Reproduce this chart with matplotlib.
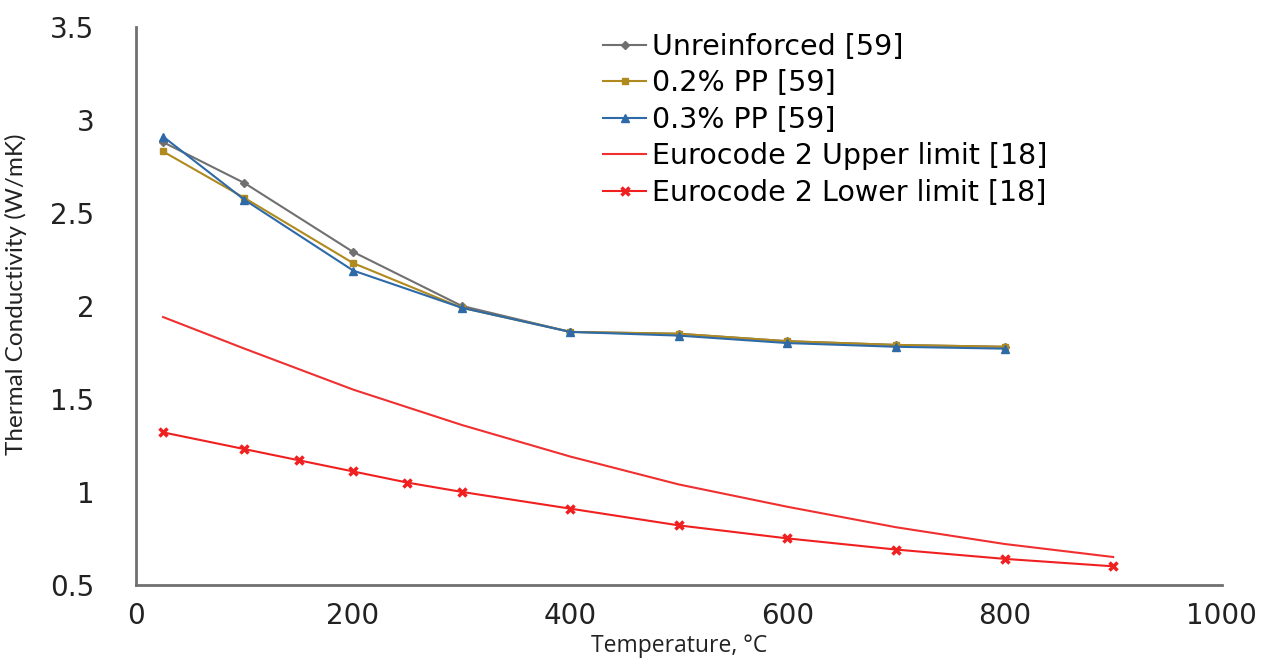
import numpy as np
import matplotlib.pyplot as plt

# data
temp_exp = [25, 100, 200, 300, 400, 500, 600, 700, 800]
unreinforced = [2.88, 2.66, 2.29, 2.00, 1.86, 1.85, 1.81, 1.79, 1.78]
pp_02 = [2.83, 2.58, 2.23, 1.99, 1.86, 1.85, 1.81, 1.79, 1.78]
pp_03 = [2.91, 2.57, 2.19, 1.99, 1.86, 1.84, 1.80, 1.78, 1.77]

temp_upper = [25, 100, 200, 300, 400, 500, 600, 700, 800, 900]
ec2_upper = [1.94, 1.77, 1.55, 1.36, 1.19, 1.04, 0.92, 0.81, 0.72, 0.65]

temp_lower = [25, 100, 150, 200, 250, 300, 400, 500, 600, 700, 800, 900]
ec2_lower = [1.32, 1.23, 1.17, 1.11, 1.05, 1.00, 0.91, 0.82, 0.75, 0.69, 0.64, 0.60]

plt.rcParams['font.family'] = ['DejaVu Sans']

fig = plt.figure(figsize=(12.7, 6.7), dpi=100)
ax = fig.add_axes([0.107, 0.127, 0.855, 0.833])

ax.plot(temp_exp, unreinforced, color="#707070", lw=1.5, marker="D", ms=4,
        label="Unreinforced [59]")
ax.plot(temp_exp, pp_02, color="#b08a1e", lw=1.5, marker="s", ms=5,
        label="0.2% PP [59]")
ax.plot(temp_exp, pp_03, color="#2e6aa8", lw=1.5, marker="^", ms=6,
        label="0.3% PP [59]")
ax.plot(temp_upper, ec2_upper, color="#f03030", lw=1.5,
        label="Eurocode 2 Upper limit [18]")
ax.plot(temp_lower, ec2_lower, color="#f02020", lw=1.5, marker="x", ms=6, mew=2.5,
        label="Eurocode 2 Lower limit [18]")

ax.set_xlim(0, 1000)
ax.set_ylim(0.5, 3.5)
ax.set_xticks(np.arange(0, 1001, 200))
ax.set_yticks([0.5, 1, 1.5, 2, 2.5, 3, 3.5])
ax.set_yticklabels(["0.5", "1", "1.5", "2", "2.5", "3", "3.5"])
ax.tick_params(length=0, labelsize=20, colors="#222222", pad=12)
ax.tick_params(axis="y", pad=30)

for s in ["top", "right"]:
    ax.spines[s].set_visible(False)
for s in ["left", "bottom"]:
    ax.spines[s].set_color("#707070")
    ax.spines[s].set_linewidth(2)

ax.set_xlabel("Temperature, \u00b0C", fontsize=16.5, labelpad=3, color="#222222",
              family="Open Sans")
ax.set_ylabel("Thermal Conductivity (W/mK)", fontsize=17.5, labelpad=2, color="#222222",
              family="Lato")
ax.yaxis.set_label_coords(-0.1, 0.52)

ax.legend(loc="upper left", bbox_to_anchor=(0.42, 1.01), frameon=False, fontsize=20.5,
          handlelength=1.5, handletextpad=0.2, labelspacing=0.3, borderaxespad=0)

plt.savefig("out.png", dpi=100)
